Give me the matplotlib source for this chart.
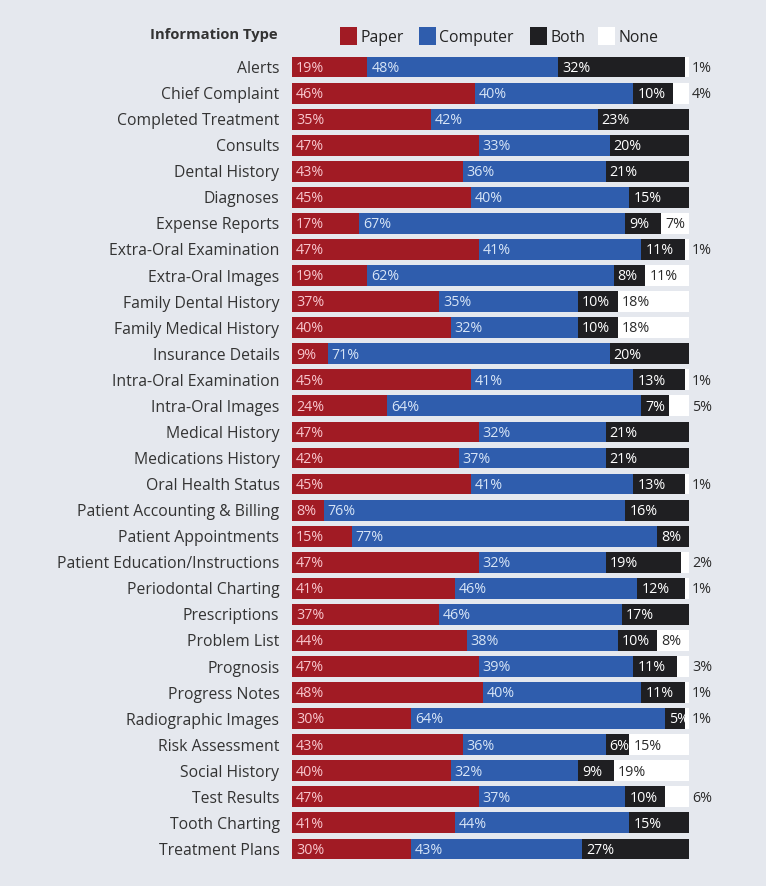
import matplotlib.pyplot as plt
from matplotlib.patches import Rectangle

categories = [
    'Alerts', 'Chief Complaint', 'Completed Treatment', 'Consults', 'Dental History',
    'Diagnoses', 'Expense Reports', 'Extra-Oral Examination', 'Extra-Oral Images',
    'Family Dental History', 'Family Medical History', 'Insurance Details',
    'Intra-Oral Examination', 'Intra-Oral Images', 'Medical History',
    'Medications History', 'Oral Health Status', 'Patient Accounting & Billing',
    'Patient Appointments', 'Patient Education/Instructions', 'Periodontal Charting',
    'Prescriptions', 'Problem List', 'Prognosis', 'Progress Notes',
    'Radiographic Images', 'Risk Assessment', 'Social History', 'Test Results',
    'Tooth Charting', 'Treatment Plans',
]
paper = [19, 46, 35, 47, 43, 45, 17, 47, 19, 37, 40, 9, 45, 24, 47, 42, 45, 8, 15,
         47, 41, 37, 44, 47, 48, 30, 43, 40, 47, 41, 30]
computer = [48, 40, 42, 33, 36, 40, 67, 41, 62, 35, 32, 71, 41, 64, 32, 37, 41, 76, 77,
            32, 46, 46, 38, 39, 40, 64, 36, 32, 37, 44, 43]
both = [32, 10, 23, 20, 21, 15, 9, 11, 8, 10, 10, 20, 13, 7, 21, 21, 13, 16, 8,
        19, 12, 17, 10, 11, 11, 5, 6, 9, 10, 15, 27]
none = [1, 4, 0, 0, 0, 0, 7, 1, 11, 18, 18, 0, 1, 5, 0, 0, 1, 0, 0,
        2, 1, 0, 8, 3, 1, 1, 15, 19, 6, 0, 0]

series_names = ['Paper', 'Computer', 'Both', 'None']
colors = ['#a11b24', '#2f5dad', '#1f1f22', '#ffffff']
text_colors = ['#f8c6cd', '#d6e4f6', '#ffffff', '#2a2a2a']
bg = '#e5e8ee'

plt.rcParams['font.family'] = ['Open Sans', 'DejaVu Sans']

W, H = 766, 886
fig = plt.figure(figsize=(W / 100, H / 100), dpi=100, facecolor=bg)
# bars span 292..689 px for 100 %, rows from y=54 to y=862
ax = fig.add_axes([292 / W, 1 - 862 / H, 397 / W, 808 / H])
ax.set_facecolor(bg)

ys = list(range(len(categories)))
left = [0] * len(categories)
for k, vals in enumerate([paper, computer, both, none]):
    ax.barh(ys, vals, left=left, height=0.8, color=colors[k], linewidth=0)
    for i, v in enumerate(vals):
        if v == 0:
            continue
        x = left[i] + 1
        if k == 3 and v < 7:
            x = 100.8
        ax.text(x, i + 0.05, f'{v}%', ha='left', va='center', fontsize=10.3,
                color=text_colors[k], clip_on=False)
    left = [a + b for a, b in zip(left, vals)]

ax.set_xlim(0, 100)
ax.set_ylim(len(categories) - 0.5, -0.5)
ax.set_yticks(ys)
ax.set_yticklabels(categories, fontsize=11.3, color='#333333')
ax.tick_params(axis='y', length=0, pad=9)
ax.set_xticks([])
for s in ax.spines.values():
    s.set_visible(False)

# header and legend
fig.text(278 / W, 1 - 35 / H, 'Information Type', ha='right', va='center',
         fontsize=10.6, fontweight='bold', color='#333333')
legend_x = [340, 419, 530, 598]
for k, name in enumerate(series_names):
    fig.patches.append(Rectangle((legend_x[k] / W, 1 - 45 / H), 17 / W, 18 / H,
                                 transform=fig.transFigure, facecolor=colors[k],
                                 edgecolor='none'))
    fig.text((legend_x[k] + 20) / W, 1 - 38 / H, name, ha='left', va='center',
             fontsize=11.3, color='#222222')

fig.savefig('out.png', dpi=100, facecolor=bg)
